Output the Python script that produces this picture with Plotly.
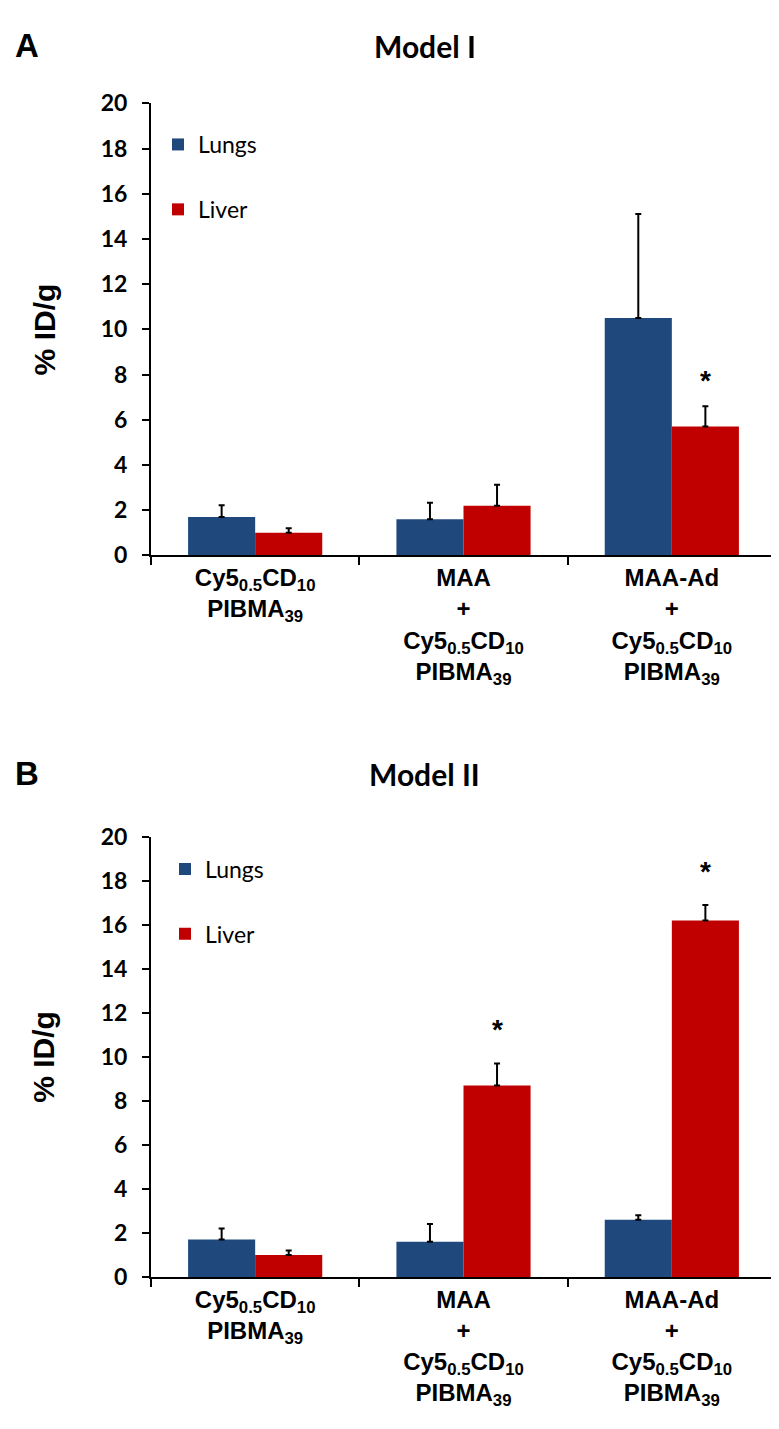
import plotly.graph_objects as go

W, H = 779, 1429

categories = [
    "Cy5<sub>0.5</sub>CD<sub>10</sub><br>PIBMA<sub>39</sub>",
    "MAA<br>+<br>Cy5<sub>0.5</sub>CD<sub>10</sub><br>PIBMA<sub>39</sub>",
    "MAA-Ad<br>+<br>Cy5<sub>0.5</sub>CD<sub>10</sub><br>PIBMA<sub>39</sub>",
]
series_names = ["Lungs", "Liver"]

# Model I
a_lungs = [1.7, 1.6, 10.5]
a_lungs_err = [0.52, 0.73, 4.6]
a_liver = [1.0, 2.2, 5.7]
a_liver_err = [0.2, 0.92, 0.9]
a_star_idx = [2]

# Model II
b_lungs = [1.7, 1.6, 2.6]
b_lungs_err = [0.5, 0.8, 0.2]
b_liver = [1.0, 8.7, 16.2]
b_liver_err = [0.2, 1.0, 0.7]
b_star_idx = [1, 2]

y_ticks = [0, 2, 4, 6, 8, 10, 12, 14, 16, 18, 20]

BLUE = "#1F497D"
RED = "#C00000"
BARGAP = 0.356

fig = go.Figure()


def add_bars(lungs, lungs_err, liver, liver_err, xa, ya, leg):
    for name, vals, errs, col in [(series_names[0], lungs, lungs_err, BLUE),
                                  (series_names[1], liver, liver_err, RED)]:
        fig.add_trace(go.Bar(
            x=categories, y=vals, name=name, marker_color=col,
            marker_line_width=0, xaxis=xa, yaxis=ya, legend=leg,
            legendgroup=leg + name, offsetgroup=name,
            error_y=dict(type="data", array=errs, arrayminus=[0] * len(errs),
                         symmetric=False, color="black", thickness=2, width=3),
        ))


add_bars(a_lungs, a_lungs_err, a_liver, a_liver_err, "x", "y", "legend")
add_bars(b_lungs, b_lungs_err, b_liver, b_liver_err, "x2", "y2", "legend2")

xdom = [143 / W, 768 / W]
ydomA = [1 - 543 / H, 1 - 82 / H]
ydomB = [1 - 1279 / H, 1 - 830 / H]

xcommon = dict(type="category", range=[-0.5, 2.5], showline=True, linecolor="black",
               linewidth=2, ticks="outside", tickson="boundaries", ticklen=8,
               tickwidth=2, tickcolor="black", showgrid=False, zeroline=False,
               tickfont=dict(family="Arial, Liberation Sans", size=24, color="black", weight=700),
               domain=xdom, fixedrange=True)
ycommon = dict(range=[0, 20], tickvals=y_ticks, showline=True, linecolor="black",
               linewidth=2, ticks="outside", ticklen=7, tickwidth=2, tickcolor="black",
               showgrid=False, zeroline=False, ticklabelstandoff=10,
               tickfont=dict(family="Lato, Open Sans", size=23, color="black", weight=700))

legcommon = dict(font=dict(family="Lato, Open Sans", size=23, color="black"),
                 bgcolor="rgba(0,0,0,0)", traceorder="grouped", tracegroupgap=32,
                 xanchor="left", yanchor="top")

fig.update_layout(
    width=W, height=H, margin=dict(l=0, r=0, t=0, b=0),
    paper_bgcolor="white", plot_bgcolor="white",
    barmode="group", bargap=BARGAP, bargroupgap=0,
    xaxis=dict(**xcommon, anchor="y"),
    yaxis=dict(**ycommon, domain=ydomA, anchor="x"),
    xaxis2=dict(**xcommon, anchor="y2"),
    yaxis2=dict(**ycommon, domain=ydomB, anchor="x2"),
    legend=dict(**legcommon, x=150 / W, y=1 - 102 / H),
    legend2=dict(**legcommon, x=157 / W, y=1 - 841 / H),
)

ann = []
title_font = dict(family="Lato, Open Sans", size=30, color="black", weight=700)
label_font = dict(family="Arial, Liberation Sans", size=33, color="black", weight=700)
ytitle_font = dict(family="Arial, Liberation Sans", size=30, color="black", weight=700)

for letter, title, ytop, dom in [("A", "Model I", 23, ydomA), ("B", "Model II", 766, ydomB)]:
    ann.append(dict(text=letter, x=5 / W, y=1 - ytop / H, xref="paper", yref="paper",
                    xanchor="left", yanchor="middle", showarrow=False, font=label_font))
    ann.append(dict(text=title, x=417 / W, y=1 - ytop / H, xref="paper", yref="paper",
                    xanchor="center", yanchor="middle", showarrow=False, font=title_font))
    ann.append(dict(text="% ID/g", x=36 / W, y=(dom[0] + dom[1]) / 2, xref="paper", yref="paper",
                    xanchor="center", yanchor="middle", textangle=-90, showarrow=False,
                    font=ytitle_font))

offset = (1 - BARGAP) / 4
star_font = dict(family="Arial, Liberation Sans", size=28, color="black", weight=700)
for idx_list, vals, errs, xr, yr, ys in [(a_star_idx, a_liver, a_liver_err, "x", "y", 8),
                                         (b_star_idx, b_liver, b_liver_err, "x2", "y2", 16)]:
    for i in idx_list:
        ann.append(dict(text="*", x=i + offset, y=vals[i] + errs[i], xref=xr, yref=yr,
                        xanchor="center", yanchor="bottom", yshift=ys, showarrow=False,
                        font=star_font))

fig.update_layout(annotations=ann)
fig.write_html("out.html")
